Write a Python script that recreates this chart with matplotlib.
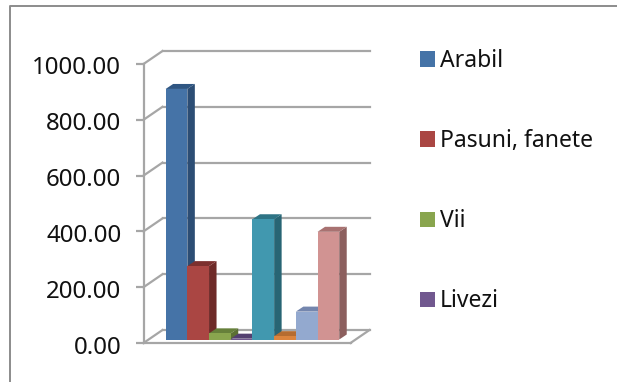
import matplotlib
matplotlib.use("Agg")
import matplotlib.pyplot as plt
from matplotlib.lines import Line2D
from matplotlib.patches import Patch, Polygon
from matplotlib.transforms import Affine2D

plt.rcParams["font.family"] = ["Noto Sans", "DejaVu Sans"]

# data
legend_names = ["Arabil", "Pasuni, fanete", "Vii", "Livezi"]
values = [898, 263, 22, 3, 431, 12, 100, 386]
y_ticks = [0, 200, 400, 600, 800, 1000]

front_colors = ["#4573A7", "#AA4643", "#89A54E", "#71588F", "#4198AF", "#DB843D", "#93A9CF", "#D19392"]
side_colors = ["#2C4D74", "#6E2A28", "#5C7033", "#4A3862", "#286574", "#A05F28", "#6A7CA0", "#8C5F5E"]
top_colors = ["#2F5682", "#7C302E", "#66803A", "#533F70", "#2E7485", "#B56C30", "#7486AE", "#A87271"]

W, H = 617, 382
GRAY = "#A6A6A6"

fig = plt.figure(figsize=(W / 100, H / 100), dpi=100)
ax = fig.add_axes([143.5 / W, 1 - 343 / H, 207 / W, 279 / H])
ax.set_xlim(-1.29, 8.25)
ax.set_ylim(0, 1000)

# depth offsets in pixels
wall = ax.transData + Affine2D().translate(19, 13)
front = ax.transData + Affine2D().translate(5, 3.5)
bar_top = ax.transData + Affine2D().translate(12.5, 8.5)

x0, x1 = ax.get_xlim()
for t in y_ticks:
    ax.plot([x0, x1], [t, t], color=GRAY, lw=1.6, transform=wall, clip_on=False, zorder=1)
    # diagonal from the axis to the back wall
    ax.add_line(Line2D([0, 19], [0, 13], color=GRAY, lw=1.6, zorder=1, clip_on=False,
                       transform=Affine2D().translate(*ax.transData.transform((x0, t)))))
# right edge of the floor
ax.add_line(Line2D([0, 19], [0, 13], color=GRAY, lw=1.6, zorder=1, clip_on=False,
                   transform=Affine2D().translate(*ax.transData.transform((x1, 0)))))

for i, v in enumerate(values):
    z = 3 + i
    l, r = i - 0.5, i + 0.5
    ax.bar(i, v, width=1, color=front_colors[i], transform=front, clip_on=False, zorder=z + 0.5)
    # side and top faces, each corner mapped through the matching depth plane
    f_lo = front.transform([(r, 0), (r, v)])
    b_hi = bar_top.transform([(r, v), (r, 0)])
    ax.add_patch(Polygon(list(f_lo) + list(b_hi), closed=True, color=side_colors[i], lw=0,
                         transform=None, clip_on=False, zorder=z))
    t_f = front.transform([(l, v), (r, v)])
    t_b = bar_top.transform([(r, v), (l, v)])
    ax.add_patch(Polygon(list(t_f) + list(t_b), closed=True, color=top_colors[i], lw=0,
                         transform=None, clip_on=False, zorder=z))

for s in ["top", "right"]:
    ax.spines[s].set_visible(False)
for s in ["left", "bottom"]:
    ax.spines[s].set_color(GRAY)
    ax.spines[s].set_linewidth(1.6)
ax.set_xticks([])
ax.set_yticks(y_ticks)
ax.set_yticklabels(["%.2f" % t for t in y_ticks], fontsize=17.3, color="#111111")
ax.tick_params(axis="y", color=GRAY, width=1.6, length=5.5, pad=10.5)
for lab in ax.get_yticklabels():
    lab.set_transform(lab.get_transform() + Affine2D().translate(0, -1.5))

handles = [Patch(facecolor=c, edgecolor="none", label=n) for c, n in zip(front_colors, legend_names)]
fig.legend(handles=handles, loc="upper left", bbox_to_anchor=(420 / W, 1 - 49 / H),
           frameon=False, fontsize=16.5, handlelength=0.655, handleheight=0.655,
           handletextpad=0.22, labelspacing=2.45, borderpad=0, borderaxespad=0,
           labelcolor="#111111")

# picture frame
fig.add_artist(Line2D([9.5 / W, 9.5 / W, 1], [0, 1 - 6 / H, 1 - 6 / H], color="#8C8C8C", lw=1.4))

fig.savefig("out.png", dpi=100)
